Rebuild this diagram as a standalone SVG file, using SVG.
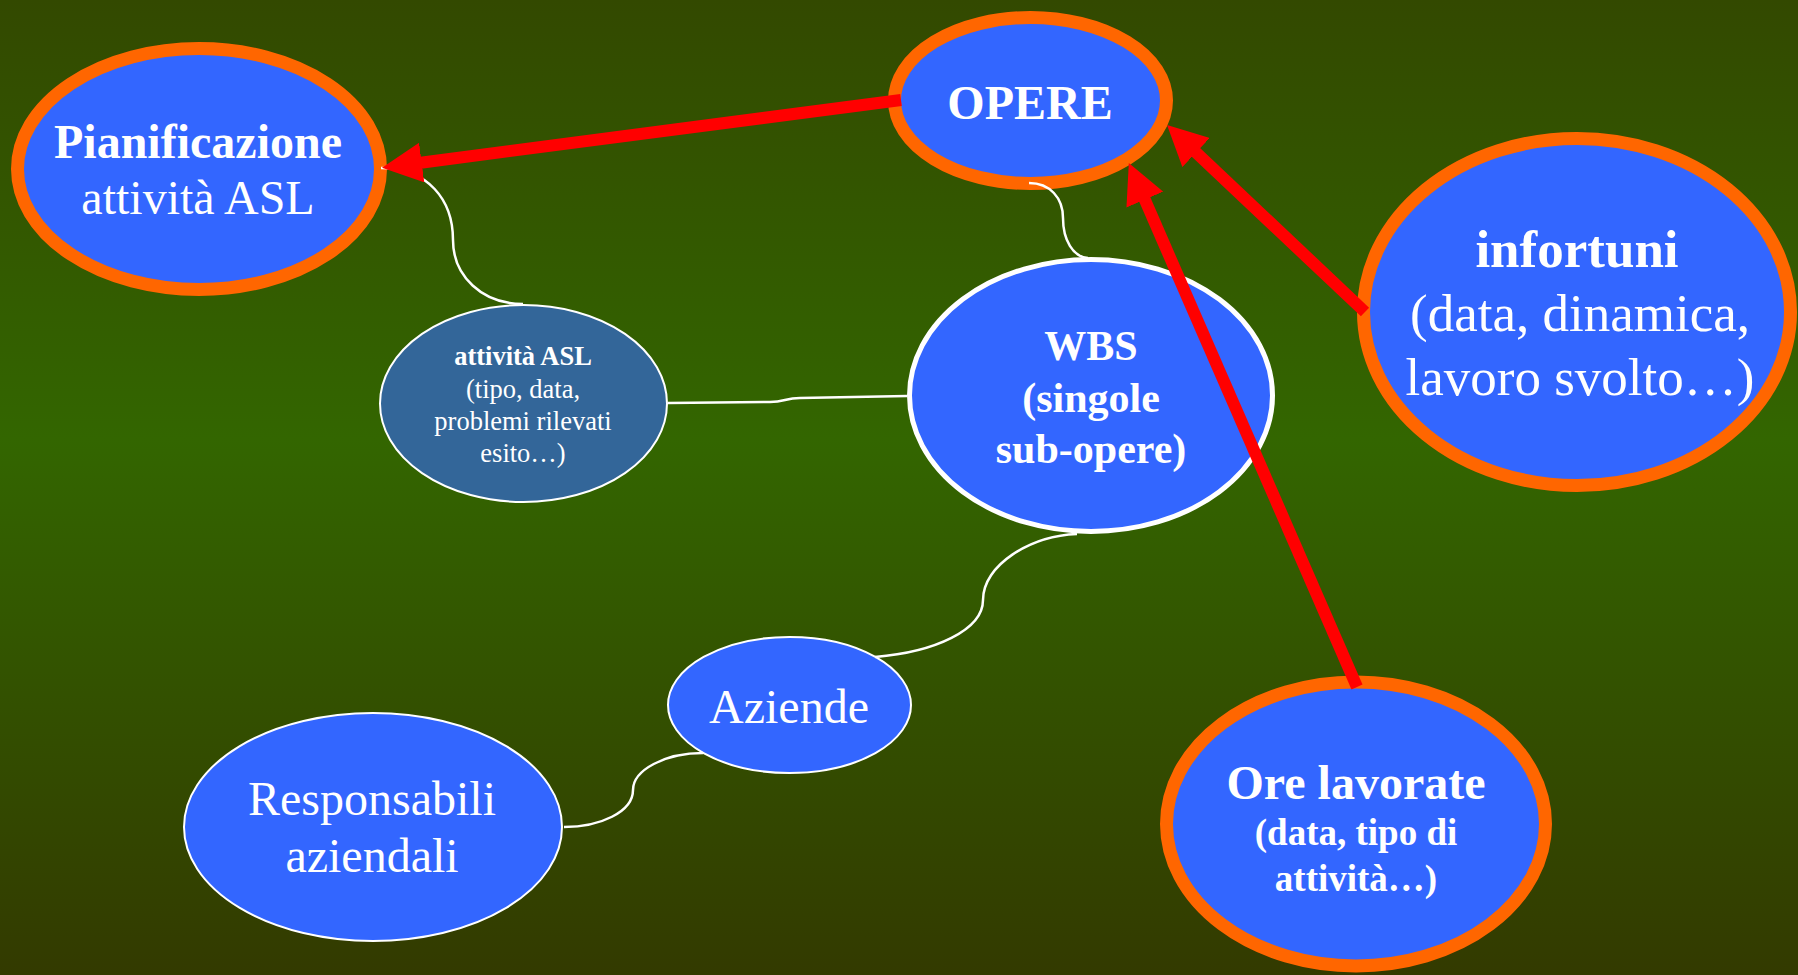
<svg xmlns="http://www.w3.org/2000/svg" width="1798" height="975" viewBox="0 0 1798 975">
  <defs>
    <linearGradient id="bg" x1="0" y1="0" x2="0" y2="1">
      <stop offset="0" stop-color="#334900"/>
      <stop offset="0.45" stop-color="#336600"/>
      <stop offset="1" stop-color="#333a00"/>
    </linearGradient>
    <marker id="head" viewBox="0 0 40 40" markerWidth="40" markerHeight="40" markerUnits="userSpaceOnUse" refX="1" refY="20" orient="auto">
      <path d="M0,0 L40,20 L0,40 Z" fill="#ff0000"/>
    </marker>
    <style>
      .main { fill: #3366ff; stroke: #ff6600; stroke-width: 13; }
      .sub { fill: #3366ff; stroke: #ffffff; stroke-width: 2; }
      .wbs { fill: #3366ff; stroke: #ffffff; stroke-width: 5; }
      .asl { fill: #336699; stroke: #ffffff; stroke-width: 2; }
      text { font-family: "Liberation Serif", "Times New Roman", serif; fill: #ffffff; text-anchor: middle; }
      .b { font-weight: bold; }
      .link { fill: none; stroke: #ffffff; stroke-width: 2.5; }
      .arrow { fill: none; stroke: #ff0000; stroke-width: 12; marker-end: url(#head); }
    </style>
  </defs>
  <rect x="0" y="0" width="1798" height="975" fill="url(#bg)"/>

  <g id="n-pianificazione">
    <ellipse class="main" cx="199" cy="169" rx="181.5" ry="120.5"/>
    <text x="198" y="158" font-size="48" class="b">Pianificazione</text>
    <text x="198" y="214" font-size="48">attività ASL</text>
  </g>

  <g id="n-opere">
    <ellipse class="main" cx="1030.5" cy="100.5" rx="136" ry="83"/>
    <text x="1030" y="119" font-size="48" class="b">OPERE</text>
  </g>

  <g id="n-attivita">
    <ellipse class="asl" cx="523.5" cy="403.5" rx="143.5" ry="98.5"/>
    <text x="523" y="365" font-size="26.5" class="b">attività ASL</text>
    <text x="523" y="398" font-size="26.5">(tipo, data,</text>
    <text x="523" y="430" font-size="26.5">problemi rilevati</text>
    <text x="523" y="462" font-size="26.5">esito…)</text>
  </g>

  <g id="n-wbs">
    <ellipse class="wbs" cx="1091" cy="395.5" rx="181.5" ry="136"/>
    <text x="1091" y="360" font-size="42" class="b">WBS</text>
    <text x="1091" y="412" font-size="42" class="b">(singole</text>
    <text x="1091" y="463" font-size="42" class="b">sub-opere)</text>
  </g>

  <g id="n-infortuni">
    <ellipse class="main" cx="1577" cy="312" rx="213.5" ry="173.5"/>
    <text x="1577" y="267" font-size="53" class="b">infortuni</text>
    <text x="1580" y="331" font-size="53">(data, dinamica,</text>
    <text x="1580" y="395" font-size="53">lavoro svolto…)</text>
  </g>

  <g id="n-aziende">
    <ellipse class="sub" cx="789.5" cy="705" rx="121.5" ry="68"/>
    <text x="789" y="723" font-size="48">Aziende</text>
  </g>

  <g id="n-responsabili">
    <ellipse class="sub" cx="373" cy="827" rx="189" ry="114"/>
    <text x="372" y="815" font-size="48">Responsabili</text>
    <text x="372" y="872" font-size="48">aziendali</text>
  </g>

  <g id="n-ore">
    <ellipse class="main" cx="1356" cy="824" rx="189.5" ry="142"/>
    <text x="1356" y="799" font-size="48" class="b">Ore lavorate</text>
    <text x="1356" y="845" font-size="37" class="b">(data, tipo di</text>
    <text x="1356" y="891" font-size="37" class="b">attività…)</text>
  </g>

  <g id="connectors">
    <path class="link" d="M381,168 C428,168 453,200 453,240 C453,276 482,304 523,304"/>
    <path class="link" d="M668,403 L770,402 C785,402 785,398 800,398 L907,396"/>
    <path class="link" d="M1029,183 C1050,183 1063,198 1063,218 C1063,240 1073,257 1088,258"/>
    <path class="link" d="M875,657 C935,652 983,630 983,600 C983,565 1030,536 1077,534"/>
    <path class="link" d="M564,827 C600,827 633,812 633,790 C633,770 665,753 703,753"/>
  </g>

  <g id="arrows">
    <path class="arrow" d="M901,100 L420.7,162.7"/>
    <path class="arrow" d="M1365,312 L1195.4,151.8"/>
    <path class="arrow" d="M1357,687 L1144.4,198.7"/>
  </g>
</svg>
